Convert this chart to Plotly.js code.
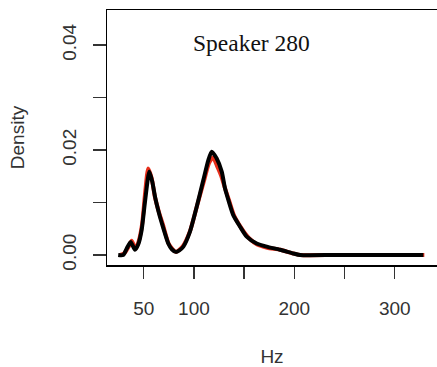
<!DOCTYPE html>
<html>
<head>
<meta charset="utf-8">
<script src="https://cdn.plot.ly/plotly-3.0.1.min.js"></script>
<style>html,body{margin:0;padding:0;background:#fff;}#chart{width:437px;height:367px;}</style>
</head>
<body>
<div id="chart"></div>
<script>
// Black density curve (Hz, density)
const hzBlack = [24.6, 29.5, 33, 37, 41.3, 44.5, 48, 51.5, 55.6, 58.5, 61.3, 64.5, 68, 74.5, 78, 82, 85.5, 89.5, 96, 102.8, 109.4, 114.4, 117.7, 122.7, 127.7, 131, 134.3, 139.2, 146, 152.6, 162.5, 172.5, 185.8, 199, 205.6, 240, 280, 328.5];
const denBlack = [0.0000, 0.0000, 0.0012, 0.0025, 0.0010, 0.0020, 0.0048, 0.0105, 0.0159, 0.0140, 0.0111, 0.0085, 0.0061, 0.0022, 0.0011, 0.0006, 0.0009, 0.0016, 0.0044, 0.0092, 0.0143, 0.0181, 0.0197, 0.0184, 0.0159, 0.0127, 0.0105, 0.0076, 0.0054, 0.0035, 0.0022, 0.0016, 0.0010, 0.0003, 0.0000, 0.0000, 0.0000, 0.0000];
// Red density curve (underneath)
const hzRed = [26, 31, 35, 38, 42, 45, 48.5, 51.5, 54.5, 58, 61, 65, 69, 75, 82, 89, 96, 103, 110, 115, 119, 123, 127, 131, 135, 140, 146, 151, 155, 163, 173, 186, 199, 206, 240, 280, 329.5];
const denRed = [0.0000, 0.0004, 0.0016, 0.0027, 0.0012, 0.0026, 0.0060, 0.0120, 0.0165, 0.0146, 0.0112, 0.0083, 0.0059, 0.0021, 0.0006, 0.0017, 0.0045, 0.0093, 0.0141, 0.0175, 0.0186, 0.0170, 0.0152, 0.0127, 0.0104, 0.0075, 0.0055, 0.0041, 0.0032, 0.0020, 0.0014, 0.0010, 0.0003, 0.0000, 0.0000, 0.0000, 0.0000];
const xTickVals = [50, 100, 150, 200, 250, 300];
const xTickText = ['50', '100', '', '200', '', '300'];
const yTickVals = [0, 0.01, 0.02, 0.03, 0.04];
const yTickText = ['0.00', '', '0.02', '', '0.04'];
const chartTitle = 'Speaker 280';

const traces = [
  {x: hzRed, y: denRed, type: 'scatter', mode: 'lines', line: {color: '#e8301c', width: 4, shape: 'spline', smoothing: 0.6}, hoverinfo: 'skip'},
  {x: hzBlack, y: denBlack, type: 'scatter', mode: 'lines', line: {color: '#000000', width: 4, shape: 'spline', smoothing: 0.6}, hoverinfo: 'skip'}
];

const axisFont = {family: 'Liberation Sans, Arial, sans-serif', size: 19, color: '#333'};

const layout = {
  width: 437, height: 367,
  margin: {l: 107, r: 0, t: 10, b: 102},
  paper_bgcolor: '#fff', plot_bgcolor: '#fff',
  showlegend: false,
  xaxis: {
    range: [13.45, 342.1], showgrid: false, zeroline: false,
    showline: true, mirror: true, linecolor: '#000', linewidth: 1.5,
    ticks: 'outside', ticklen: 12, tickwidth: 1.5, tickcolor: '#333',
    tickvals: xTickVals, ticktext: xTickText, tickfont: axisFont,
    ticklabelstandoff: 14,
    title: {text: 'Hz', font: axisFont, standoff: 36}
  },
  yaxis: {
    range: [-0.0019, 0.0467], showgrid: false, zeroline: false,
    showline: true, linecolor: '#000', linewidth: 1.5,
    ticks: 'outside', ticklen: 13, tickwidth: 1.5, tickcolor: '#333',
    tickvals: yTickVals, ticktext: yTickText, tickfont: axisFont, tickangle: -90,
    ticklabelstandoff: 9,
    title: {text: 'Density', font: axisFont, standoff: 29}
  },
  annotations: [{
    text: chartTitle, xref: 'paper', yref: 'paper', x: 0.439, y: 0.871,
    xanchor: 'center', yanchor: 'middle', showarrow: false,
    font: {family: 'Liberation Serif, Times New Roman, serif', size: 23.5, color: '#111'}
  }]
};

Plotly.newPlot('chart', traces, layout, {staticPlot: true, displayModeBar: false});
</script>
</body>
</html>
